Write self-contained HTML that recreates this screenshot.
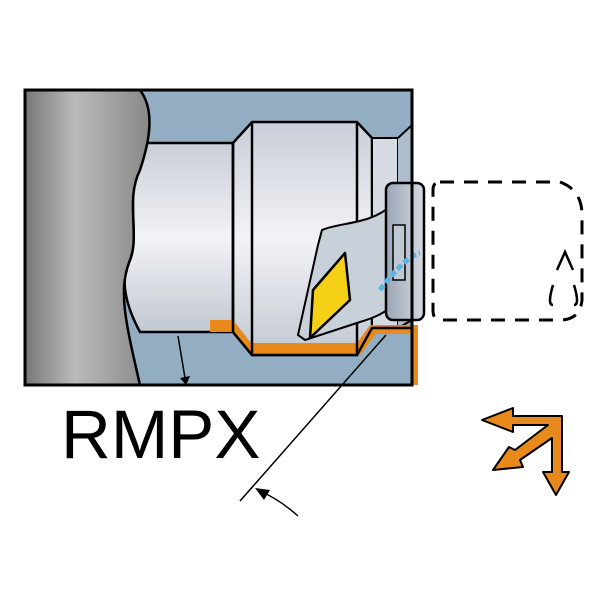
<!DOCTYPE html>
<html><head><style>body{margin:0;background:#fff}svg{display:block}</style></head><body>
<svg width="600" height="600" viewBox="0 0 600 600" xmlns="http://www.w3.org/2000/svg">
<defs>
<linearGradient id="gr" x1="0" x2="1"><stop offset="0" stop-color="#777"/><stop offset="0.4" stop-color="#bbb"/><stop offset="1" stop-color="#888"/></linearGradient>
<linearGradient id="cy" x1="0" y1="0" x2="0" y2="1"><stop offset="0" stop-color="#c9ced8"/><stop offset="0.5" stop-color="#f2f3f6"/><stop offset="1" stop-color="#c2c8d2"/></linearGradient>
<linearGradient id="pl" x1="0" x2="1"><stop offset="0" stop-color="#9aa6b6"/><stop offset="1" stop-color="#d5dae2"/></linearGradient>
</defs>
<rect x="25" y="90" width="387" height="295" fill="#93aec3"/>
<path d="M140,143 L233,143 L233,332 L140,332 C128,310 118,280 130,260 C140,235 125,200 140,143 Z" fill="url(#cy)" stroke="#000" stroke-width="2.5"/>
<path d="M233,143 L252,122 L357,122 L372,138 L372,328 L357,355 L252,355 L233,332 Z" fill="url(#cy)" stroke="#000" stroke-width="2.5"/>
<rect x="372" y="138" width="26" height="190" fill="#d6dbe3" stroke="#000" stroke-width="2"/>
<path d="M398,138 L412,125 L412,320 L398,328" fill="#aebdcc" stroke="#000" stroke-width="2"/>
<!-- orange -->
<polygon points="210,320 233,320 251,343 357,343 370,325 418,325 418,385 412,385 412,334 376,334 360,355 252,355 233,332 210,332" fill="#e8891c"/>
<path d="M233,332 L252,355 L357,355 L372,328 L412,328" fill="none" stroke="#000" stroke-width="2.5"/>
<line x1="252" y1="122" x2="252" y2="355" stroke="#000" stroke-width="2.5"/>
<line x1="357" y1="122" x2="357" y2="355" stroke="#000" stroke-width="2.5"/>
<line x1="233" y1="143" x2="233" y2="332" stroke="#000" stroke-width="2.5"/>
<path d="M25,90 L140,90 C155,110 150,140 140,170 C125,200 140,235 130,260 C118,290 125,320 140,385 L25,385 Z" fill="url(#gr)" stroke="#000" stroke-width="2.5"/>
<path d="M322,230 C340,222 370,225 392,205 L400,300 C380,318 365,320 360,322 L305,340 L298,335 L318,245 Z" fill="#c8d0da" stroke="#000" stroke-width="2"/>
<rect x="386" y="183" width="38" height="137" rx="7" fill="url(#pl)" stroke="#000" stroke-width="2.5"/>
<rect x="393" y="225" width="12" height="55" fill="#c0c8d2" stroke="#000" stroke-width="1.5"/>
<path d="M380,290 C395,270 410,255 420,253" fill="none" stroke="#5ab4e6" stroke-width="5" stroke-dasharray="6,3"/>
<polygon points="345,253 350,300 310,338 313,290" fill="#f5d017" stroke="#000" stroke-width="2.5" stroke-linejoin="round"/>
<rect x="25" y="90" width="387" height="295" fill="none" stroke="#000" stroke-width="3"/>
<path d="M440,182 L560,182 Q582,190 582,215 L582,300 Q580,320 560,320 L440,320 Q433,320 433,310 L433,190 Q433,182 440,182" fill="none" stroke="#000" stroke-width="3" stroke-dasharray="14,10"/>
<path d="M557,270 L565,252 L573,270 M553,285 Q547,305 553,305 M574,285 Q580,305 574,305" fill="none" stroke="#000" stroke-width="2.5"/>
<line x1="178" y1="336" x2="185" y2="378" stroke="#000" stroke-width="1.5"/>
<polygon points="180,378 190,376 186,385" fill="#000"/>
<line x1="386" y1="335" x2="240" y2="501" stroke="#000" stroke-width="1.5"/>
<path d="M298,516 Q280,500 262,492" fill="none" stroke="#000" stroke-width="1.5"/>
<polygon points="255,488 270,490 264,500" fill="#000"/>
<text x="61" y="458" font-family="Liberation Sans, sans-serif" font-size="69" fill="#000">RMPX</text>
<polygon points="482,420 513,408 513,416 562,416 562,472 569,472 556,495 543,472 552,472 552,438 520,460 523,467 493,470 509,447 515,450 548,425 513,425 513,432" fill="#e8891c" stroke="#000" stroke-width="2" stroke-linejoin="round"/>
</svg>
</body></html>
